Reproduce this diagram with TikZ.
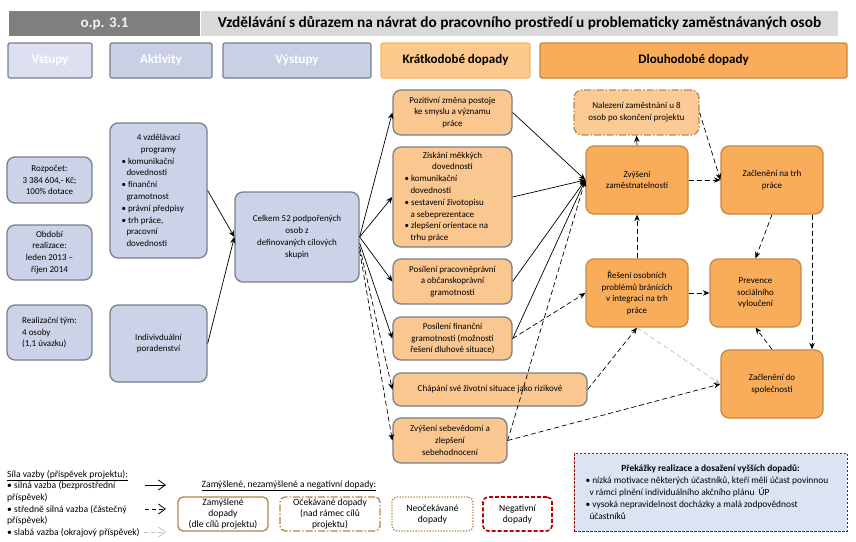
\documentclass[tikz,border=0pt]{standalone}
\usepackage{fontspec}
\setmainfont{Carlito}
\usetikzlibrary{arrows.meta,positioning}
\definecolor{OpDark}{HTML}{7F7F7F}
\definecolor{OpLight}{HTML}{D9D9D9}
\definecolor{InHead}{HTML}{DCE0F0}
\definecolor{ActHead}{HTML}{C9CFE5}
\definecolor{InBox}{HTML}{CCD3E8}
\definecolor{BoxLine}{HTML}{7A7F8C}
\definecolor{ShortFill}{HTML}{FAC791}
\definecolor{ShortHead}{HTML}{FCC98D}
\definecolor{ShortHeadLine}{HTML}{F7B66B}
\definecolor{LongFill}{HTML}{F9AD5A}
\definecolor{LongLine}{HTML}{C48A40}
\definecolor{FindFill}{HTML}{FCCB95}
\definecolor{FindLine}{HTML}{B38B5B}
\definecolor{LegLine}{HTML}{B5844A}
\definecolor{NegRed}{HTML}{C00000}
\definecolor{PrekFill}{HTML}{DCE4F4}
\definecolor{WeakGray}{HTML}{C0C0C0}
\newcommand\lst[2]{\makebox[#1pt][l]{#2}}
\tikzset{
  figtext/.style={font=\fontsize{9}{11.8}\selectfont, text=black, align=center, inner sep=1pt},
  legtext/.style={font=\fontsize{9.6}{11.6}\selectfont},
  headbox/.style={draw=BoxLine, line width=1.2pt, rounded corners=2pt, text height=9.5pt, text depth=3pt, font=\bfseries\fontsize{13}{15}\selectfont},
  inhead/.style={headbox, fill=InHead, text=white},
  acthead/.style={headbox, fill=ActHead, text=white},
  shorthead/.style={headbox, fill=ShortHead, draw=ShortHeadLine},
  longhead/.style={headbox, fill=LongFill, draw=LongLine},
  bluebox/.style={draw=BoxLine, line width=1.3pt, rounded corners=8pt, fill=InBox},
  shortbox/.style={bluebox, fill=ShortFill},
  longbox/.style={draw=LongLine, line width=1.3pt, rounded corners=8pt, fill=LongFill},
  findbox/.style={longbox, fill=FindFill, draw=FindLine, dash pattern=on 7pt off 2pt on 1.5pt off 2pt},
  legbox/.style={font=\fontsize{9.6}{11}\selectfont, inner sep=0, draw=LegLine, line width=1.3pt, rounded corners=5pt, fill=white},
  lnkstrong/.style={-{Stealth[length=6.5pt,width=5.5pt]}, line width=0.7pt, draw=black},
  lnkmid/.style={lnkstrong, dash pattern=on 5pt off 3pt},
  lnkweak/.style={lnkmid, draw=WeakGray},
  legstrong/.style={-{Straight Barb[length=7pt,width=10pt]}, line width=0.8pt, draw=black},
  legmid/.style={legstrong, dash pattern=on 4pt off 3pt},
  legweak/.style={legmid, draw=WeakGray}
}
\begin{document}
\begin{tikzpicture}[x=1pt,y=-1pt,every node/.style={figtext}]
\useasboundingbox[fill=white] (0,0) rectangle (856,541);
\node[fill=OpDark, text=white!95!black, font=\bfseries\fontsize{15}{17}\selectfont, text height=11pt, text depth=3.5pt, minimum width=191pt, minimum height=25pt, inner sep=0] (opnum) at (104.5,23.5) {o.p. 3.1};
\node[fill=OpLight, font=\bfseries\fontsize{15.3}{17}\selectfont, text height=11pt, text depth=3.5pt, minimum width=637pt, minimum height=25pt, inner sep=0] (optitle) at (519.5,23.5) {Vzdělávání s důrazem na návrat do pracovního prostředí u problematicky zaměstnávaných osob};
\node[inhead, minimum width=84pt, minimum height=35pt] (hvst) at (50,60.5) {Vstupy};
\node[acthead, minimum width=102pt, minimum height=35pt] (hakt) at (161,60.5) {Aktivity};
\node[acthead, minimum width=148pt, minimum height=35pt] (hvys) at (297,60.5) {Výstupy};
\node[shorthead, minimum width=149pt, minimum height=35pt] (hkra) at (455.5,60.5) {Krátkodobé dopady};
\node[longhead, minimum width=307pt, minimum height=35pt] (hdlo) at (693.5,60.5) {Dlouhodobé dopady};

\node[bluebox, minimum width=85pt, minimum height=46pt] (rozp) at (49.5,180) {Rozpočet:\\3 384 604,- Kč;\\100\% dotace};
\node[bluebox, minimum width=85pt, minimum height=55pt] (obd) at (49.5,252.5) {Období\\realizace:\\leden 2013 –\\říjen 2014};
\node[bluebox, minimum width=85pt, minimum height=55pt, align=left] (tym) at (49.5,332.5) {Realizační tým:\\4 osoby\\(1,1 úvazku)};
\node[bluebox, minimum width=97pt, minimum height=135pt] (vzd) at (158.5,190.5) {4 vzdělávací\\programy\\\lst{74}{• komunikační}\\\lst{74}{\hspace*{5pt}dovednosti}\\\lst{74}{• finanční}\\\lst{74}{\hspace*{5pt}gramotnost}\\\lst{74}{• právní předpisy}\\\lst{74}{• trh práce,}\\\lst{74}{\hspace*{5pt}pracovní}\\\lst{74}{\hspace*{5pt}dovednosti}};
\node[bluebox, minimum width=97pt, minimum height=77pt] (ind) at (158.5,343.5) {Indivivduální\\poradenství};
\node[bluebox, minimum width=124pt, minimum height=90pt] (celk) at (297,237) {Celkem 52 podpořených\\osob z\\definovaných cílových\\skupin};

\node[shortbox, minimum width=119pt, minimum height=45pt] (poz) at (452.5,112.5) {Pozitivní změna postoje\\ke smyslu a významu\\práce};
\node[shortbox, minimum width=119pt, minimum height=100pt] (zisk) at (452.5,197) {Získání měkkých\\dovedností\\\lst{96}{• komunikační}\\\lst{96}{\hspace*{6pt}dovednosti}\\\lst{96}{• sestavení životopisu}\\\lst{96}{\hspace*{6pt}a sebeprezentace}\\\lst{96}{• zlepšení orientace na}\\\lst{96}{\hspace*{6pt}trhu práce}};
\node[shortbox, minimum width=119pt, minimum height=45pt] (prac) at (452.5,281.5) {Posílení pracovněprávní\\a občanskoprávní\\gramotnosti};
\node[shortbox, minimum width=119pt, minimum height=43pt] (fin) at (452.5,338.5) {Posílení finanční\\gramotnosti (možnosti\\řešení dluhové situace)};
\node[shortbox, minimum width=194pt, minimum height=33pt] (chap) at (490,389.5) {Chápání své životní situace jako rizikové};
\node[shortbox, minimum width=114pt, minimum height=45pt] (seb) at (450,440.5) {Zvýšení sebevědomí a\\zlepšení\\sebehodnocení};

\node[findbox, minimum width=125pt, minimum height=45pt] (nal) at (636.5,112.5) {Nalezení zaměstnání u 8\\osob po skončení projektu};
\node[longbox, minimum width=102pt, minimum height=68pt] (zam) at (637,180) {Zvýšení\\zaměstnatelnosti};
\node[longbox, minimum width=102pt, minimum height=68pt] (trh) at (772,180) {Začlenění na trh\\práce};
\node[longbox, minimum width=102pt, minimum height=68pt] (res) at (637,293) {Řešení osobních\\problémů bránících\\v integraci na trh\\práce};
\node[longbox, minimum width=91pt, minimum height=68pt] (prev) at (755.5,293) {Prevence\\sociálního\\vyloučení};
\node[longbox, minimum width=102pt, minimum height=68pt] (spol) at (772,384) {Začlenění do\\společnosti};

\draw[lnkstrong] (vzd.east) -- (celk.west);
\draw[lnkstrong] (ind.east) -- (celk.west);
\draw[lnkstrong] (celk.east) -- (poz.west);
\draw[lnkstrong] (celk.east) -- (zisk.west);
\draw[lnkstrong] (celk.east) -- (prac.west);
\draw[lnkstrong] ([yshift=-6pt]celk.east) -- (fin.west);
\draw[lnkmid] ([yshift=-10pt]celk.east) -- (chap.west);
\draw[lnkmid] ([yshift=-14pt]celk.east) -- (seb.west);
\draw[lnkstrong] (poz.east) -- (zam.west);
\draw[lnkstrong] (zisk.east) -- (zam.west);
\draw[lnkstrong] (prac.east) -- (zam.west);
\draw[lnkstrong] (fin.east) -- (zam.west);
\draw[lnkmid] (seb.east) -- (zam.west);
\draw[lnkmid] (fin.east) -- (res.west);
\draw[lnkmid] (chap.east) -- (res.south);
\draw[lnkmid] (seb.east) -- (spol.west);
\draw[lnkweak] (res.south) -- (spol.west);
\draw[lnkmid] (zam.north) -- (nal.south);
\draw[lnkmid] (nal.east) -- (trh.west);
\draw[lnkmid] (zam.east) -- (trh.west);
\draw[lnkmid] (res.north) -- (zam.south);
\draw[lnkmid] (res.east) -- (prev.west);
\draw[lnkmid] (trh.south) -- (prev.north);
\draw[lnkmid] ([xshift=40pt]trh.south) -- ([xshift=40pt]spol.north);
\draw[lnkmid] (spol.north) -- (prev.south);

\node[legtext, anchor=north west, align=left, inner sep=0] (sila) at (7,470) {\underline{Síla vazby (příspěvek projektu):}\\• silná vazba (bezprostřední\\příspěvek)\\• středně silná vazba (částečný\\příspěvek)\\• slabá vazba (okrajový příspěvek)};
\coordinate (ls1) at (145,485);
\coordinate (le1) at (166,485);
\coordinate (ls2) at (145,509);
\coordinate (le2) at (166,509);
\coordinate (ls3) at (144,532);
\coordinate (le3) at (166,532);
\draw[legstrong] (ls1) -- (le1);
\draw[legmid] (ls2) -- (le2);
\draw[legweak] (ls3) -- (le3);
\node[legtext] (zlbl) at (289,486) {\underline{Zamýšlené, nezamýšlené a negativní dopady:}};
\node[legbox, minimum width=90pt, minimum height=34pt] (lgz) at (223,514) {Zamýšlené\\dopady\\(dle cílů projektu)};
\node[legbox, dash pattern=on 7pt off 2pt on 1.5pt off 2pt, minimum width=100pt, minimum height=34pt] (lgo) at (330,514) {Očekávané dopady\\(nad rámec cílů\\projektu)};
\node[legbox, dash pattern=on 1.3pt off 1.5pt, minimum width=81pt, minimum height=34pt] (lgn) at (432.5,514) {Neočekávané\\dopady};
\node[legbox, draw=NegRed, line width=1.6pt, dash pattern=on 4pt off 2pt, minimum width=69pt, minimum height=34pt] (lgneg) at (517.5,514) {Negativní\\dopady};
\node[draw=NegRed, fill=PrekFill, line width=0.6pt, dash pattern=on 2.5pt off 1.5pt, minimum width=273pt, minimum height=78pt, anchor=north, inner sep=3pt, font=\fontsize{9.4}{12}\selectfont] (prek) at (710.5,453) {\textbf{Překážky realizace a dosažení vyšších dopadů:}\\\lst{250}{• nízká motivace některých účastníků, kteří měli účast povinnou}\\\lst{250}{\hspace*{4pt}v rámci plnění individuálního akčního plánu ~ÚP}\\\lst{250}{• vysoká nepravidelnost docházky a malá zodpovědnost}\\\lst{250}{\hspace*{4pt}účastníků}};
\end{tikzpicture}
\end{document}
